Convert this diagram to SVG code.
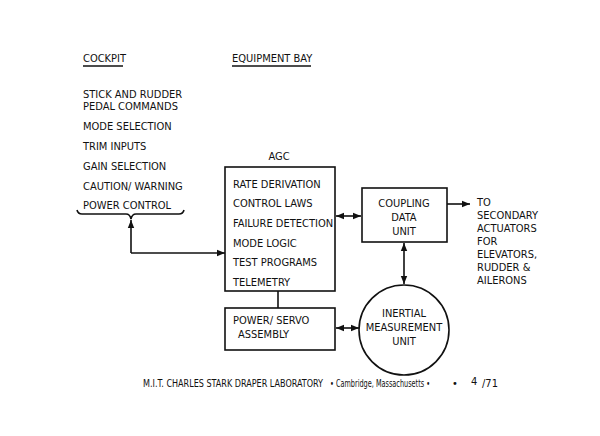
<svg xmlns="http://www.w3.org/2000/svg" width="600" height="436" viewBox="0 0 600 436">
<style>
text{font-family:"DejaVu Sans","Liberation Sans",sans-serif;font-stretch:condensed;font-size:11px;fill:#111}
.b{fill:none;stroke:#111;stroke-width:1.6}
.l{fill:none;stroke:#111;stroke-width:1.6}
</style>
<defs>
<marker id="a" viewBox="0 0 10 10" refX="10" refY="5" markerWidth="8" markerHeight="8" orient="auto-start-reverse" markerUnits="userSpaceOnUse"><path d="M0,1L10,5L0,9Z" fill="#111"/></marker>
</defs>
<rect width="600" height="436" fill="#fff"/>
<g id="headers">
<text x="83" y="62">COCKPIT</text><line class="l" x1="83" y1="66" x2="123" y2="66" stroke-width="1"/>
<text x="232" y="62">EQUIPMENT BAY</text><line class="l" x1="232" y1="66" x2="311" y2="66" stroke-width="1"/>
</g>
<g id="cockpit">
<text x="83" y="98">STICK AND RUDDER</text>
<text x="83" y="110">PEDAL COMMANDS</text>
<text x="83" y="130">MODE SELECTION</text>
<text x="83" y="150">TRIM INPUTS</text>
<text x="83" y="170">GAIN SELECTION</text>
<text x="83" y="190">CAUTION/ WARNING</text>
<text x="83" y="209">POWER CONTROL</text>
<path class="l" d="M77,210 Q78,214 82,214 L126,214 Q130,214 131,219 Q132,214 136,214 L179,214 Q183,214 184,210" stroke-width="1.2"/>
</g>
<g id="agc">
<text x="279" y="160" text-anchor="middle">AGC</text>
<rect class="b" x="225" y="167" width="110" height="124"/>
<text x="233" y="188">RATE DERIVATION</text>
<text x="233" y="207">CONTROL LAWS</text>
<text x="233" y="227">FAILURE DETECTION</text>
<text x="233" y="247">MODE LOGIC</text>
<text x="233" y="266">TEST PROGRAMS</text>
<text x="233" y="286">TELEMETRY</text>
</g>
<g id="coupling">
<rect class="b" x="362" y="188" width="85" height="54"/>
<text x="404" y="207" text-anchor="middle">COUPLING</text>
<text x="404" y="221" text-anchor="middle">DATA</text>
<text x="404" y="235" text-anchor="middle">UNIT</text>
</g>
<g id="power">
<rect class="b" x="225" y="308" width="110" height="42"/>
<text x="233" y="324">POWER/ SERVO</text>
<text x="238" y="338">ASSEMBLY</text>
</g>
<g id="imu">
<circle class="b" cx="404" cy="330" r="45"/>
<text x="404" y="317" text-anchor="middle">INERTIAL</text>
<text x="404" y="331" text-anchor="middle">MEASUREMENT</text>
<text x="404" y="345" text-anchor="middle">UNIT</text>
</g>
<g id="actuators">
<text x="477" y="206">TO</text>
<text x="477" y="219">SECONDARY</text>
<text x="477" y="232">ACTUATORS</text>
<text x="477" y="245">FOR</text>
<text x="477" y="258">ELEVATORS,</text>
<text x="477" y="271">RUDDER &amp;</text>
<text x="477" y="284">AILERONS</text>
</g>
<g id="connectors">
<path class="l" d="M131,253 L131,220" marker-end="url(#a)"/>
<path class="l" d="M131,253 L225,253" marker-end="url(#a)"/>
<path class="l" d="M336,216 L361,216" marker-start="url(#a)" marker-end="url(#a)"/>
<path class="l" d="M404,243 L404,284" marker-start="url(#a)" marker-end="url(#a)"/>
<path class="l" d="M336,328 L359,328" marker-start="url(#a)" marker-end="url(#a)"/>
<path class="l" d="M278,291 L278,308"/>
<path class="l" d="M447,204 L470,204" marker-end="url(#a)"/>
</g>
<g id="footer">
<text x="143" y="387" font-size="9" textLength="180" lengthAdjust="spacingAndGlyphs">M.I.T. CHARLES STARK DRAPER LABORATORY</text>
<text x="330" y="387" font-size="7" textLength="100" lengthAdjust="spacingAndGlyphs">• Cambridge, Massachusetts •</text>
<text x="452" y="387" font-size="9">•</text>
<text x="471" y="385" font-size="11">4</text>
<text x="482" y="387" font-size="11">/71</text>
</g>
</svg>
